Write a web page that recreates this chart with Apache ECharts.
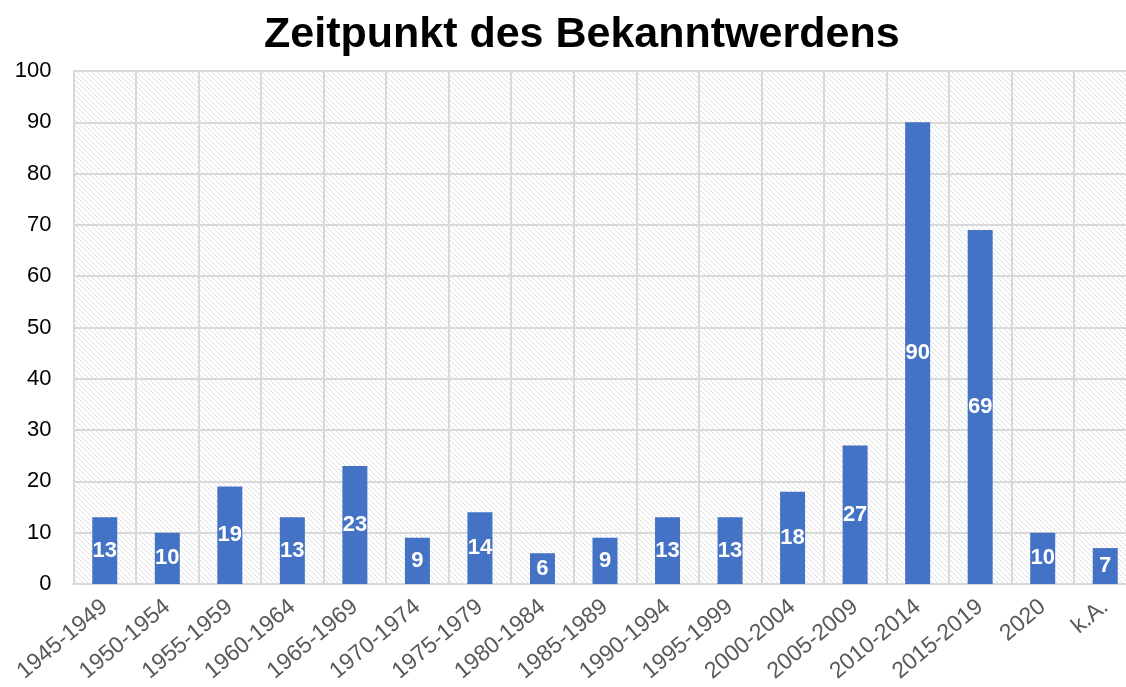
<!DOCTYPE html>
<html>
<head>
<meta charset="utf-8">
<script src="https://cdn.jsdelivr.net/npm/echarts@6/dist/echarts.min.js"></script>
<style>
  html, body { margin: 0; padding: 0; background: #fff; }
  #chart { width: 1126px; height: 687px; }
</style>
</head>
<body>
<div id="chart"></div>
<script>
const categories = ['1945-1949', '1950-1954', '1955-1959', '1960-1964', '1965-1969', '1970-1974',
  '1975-1979', '1980-1984', '1985-1989', '1990-1994', '1995-1999', '2000-2004', '2005-2009',
  '2010-2014', '2015-2019', '2020', 'k.A.']
const counts = [13, 10, 19, 13, 23, 9, 14, 6, 9, 13, 13, 18, 27, 90, 69, 10, 7]

const FONT = 'Liberation Sans'

// diagonal hatch for the plot background
function hatch() {
  const c = document.createElement('canvas')
  c.width = 5
  c.height = 5
  const ctx = c.getContext('2d')
  ctx.strokeStyle = '#dedede'
  ctx.lineWidth = 1
  ctx.beginPath()
  ctx.moveTo(-1, -1); ctx.lineTo(6, 6)
  ctx.moveTo(-1, 4); ctx.lineTo(1, 6)
  ctx.moveTo(4, -1); ctx.lineTo(6, 1)
  ctx.stroke()
  return c
}

const chart = echarts.init(document.getElementById('chart'))
chart.setOption({
  animation: false,
  title: {
    text: 'Zeitpunkt des Bekanntwerdens',
    left: 259,
    top: 9,
    textStyle: { fontFamily: FONT, fontWeight: 'bold', fontSize: 43, color: '#000' }
  },
  grid: {
    left: 73.5,
    width: 1063,
    top: 71,
    bottom: 103,
    outerBoundsMode: 'none',
    containLabel: false,
    show: true,
    borderWidth: 0,
    backgroundColor: { image: hatch(), repeat: 'repeat' }
  },
  xAxis: {
    type: 'category',
    data: categories,
    axisLine: { lineStyle: { color: '#d9d9d9', width: 2 } },
    axisTick: { show: false },
    splitLine: { show: true, lineStyle: { color: '#d9d9d9', width: 2 } },
    axisLabel: {
      rotate: 40,
      interval: 0,
      margin: 20,
      fontFamily: FONT,
      fontSize: 23,
      color: '#595959'
    }
  },
  yAxis: {
    type: 'value',
    min: 0,
    max: 100,
    interval: 10,
    axisLine: { show: false },
    axisTick: { show: false },
    splitLine: { lineStyle: { color: '#d9d9d9', width: 2 } },
    axisLabel: { fontFamily: FONT, fontSize: 22, color: '#000', margin: 22 }
  },
  series: [{
    type: 'bar',
    data: counts,
    barWidth: 25,
    itemStyle: { color: '#4472c4' },
    label: {
      show: true,
      position: 'inside',
      color: '#fff',
      fontFamily: FONT,
      fontWeight: 'bold',
      fontSize: 22
    }
  }]
})
</script>
</body>
</html>
